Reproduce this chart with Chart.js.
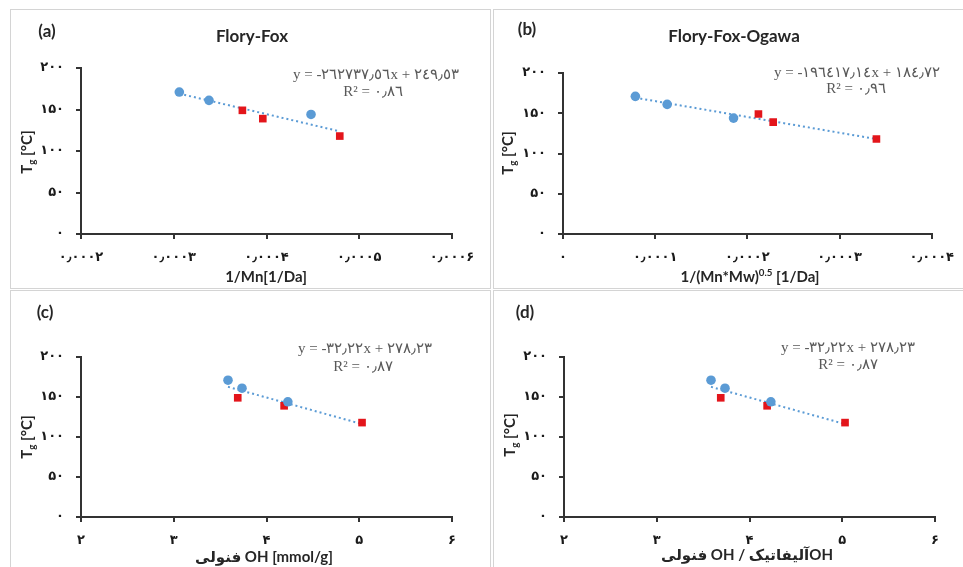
<!DOCTYPE html>
<html>
<head>
<meta charset="utf-8">
<script src="https://cdn.jsdelivr.net/npm/chart.js@4"></script>
<style>
  html, body { margin: 0; padding: 0; background: #fff; }
  #page { position: relative; width: 963px; height: 567px; overflow: hidden; background: #fff; }
  .panel { position: absolute; box-shadow: inset 0 0 0 1px #d4d4d4; }
  .panel canvas { position: absolute; left: 0; top: 0; }
</style>
</head>
<body>
<div id="page">
  <div class="panel" style="left:10px;top:9px;width:481px;height:280px"><canvas id="chart-a" width="481" height="280"></canvas></div>
  <div class="panel" style="left:493px;top:9px;width:472px;height:280px"><canvas id="chart-b" width="472" height="280"></canvas></div>
  <div class="panel" style="left:10px;top:290px;width:481px;height:280px"><canvas id="chart-c" width="481" height="277"></canvas></div>
  <div class="panel" style="left:493px;top:290px;width:472px;height:280px"><canvas id="chart-d" width="472" height="277"></canvas></div>
</div>
<script>
// --- DATOS ---
// Tg medido (°C), mismo para los cuatro paneles
const tgBlue = [171, 161, 144]
const tgRed = [149, 139, 118]

// (a) 1/Mn [1/Da]
const invMnBlue = [0.000306, 0.000338, 0.000448]
const invMnRed = [0.000374, 0.000396, 0.000479]

// (b) 1/(Mn*Mw)^0.5 [1/Da]
const invMnMwBlue = [0.0000785, 0.000113, 0.000185]
const invMnMwRed = [0.000212, 0.000228, 0.00034]

// (c) y (d) OH fenólico [mmol/g]
const ohBlue = [3.585, 3.736, 4.23]
const ohRed = [3.69, 4.19, 5.03]

// coeficientes de las rectas de tendencia (los que muestra la figura)
const fitA = { slope: -262737.56, intercept: 249.53, r2: 0.86 }
const fitB = { slope: -196417.14, intercept: 184.72, r2: 0.96 }
const fitC = { slope: -32.22, intercept: 278.23, r2: 0.87 }

const yTicks = [0, 50, 100, 150, 200]

// --- ESTILO ---
const BLUE = '#5b9bd5'
const RED = '#e3151b'
const AXIS = '#333333'
const SANS = "Lato, 'DejaVu Sans', sans-serif"
const SERIF = "'Liberation Serif', 'DejaVu Serif', serif"

const faDigits = '۰۱۲۳۴۵۶۷۸۹'
const arDigits = '٠١٢٣٤٥٦٧٨٩'
const toFa = s => String(s).replace(/[0-9]/g, d => faDigits[d]).replace('.', '٫')
const toAr = s => String(s).replace(/[0-9]/g, d => arDigits[d]).replace('.', '٫')

function eqLines(fit) {
  const sign = fit.slope < 0 ? '-' : ''
  return [
    `y = ${sign}${toAr(Math.abs(fit.slope).toFixed(2))}x + ${toAr(fit.intercept.toFixed(2))}`,
    `R² = ${toAr(fit.r2.toFixed(2))}`
  ]
}

// texto con sub/superíndices dibujado sobre el canvas
function textPlugin(items) {
  return {
    id: 'richText',
    afterDraw(chart) {
      const ctx = chart.ctx
      items.forEach(item => {
        ctx.save()
        ctx.translate(item.x, item.y)
        if (item.rotate) ctx.rotate(item.rotate)
        ctx.fillStyle = item.color || '#262626'
        ctx.textBaseline = 'middle'
        ctx.textAlign = 'left'
        const parts = item.parts.map(p => typeof p === 'string' ? { t: p, mode: '' } : p)
        const sizes = parts.map(p => p.mode ? item.size * 0.65 : item.size)
        const widths = parts.map((p, i) => {
          ctx.font = `${item.weight || 'bold'} ${sizes[i]}px ${item.family || SANS}`
          return ctx.measureText(p.t).width
        })
        const total = widths.reduce((a, b) => a + b, 0)
        let x = item.align === 'left' ? 0 : -total / 2
        parts.forEach((p, i) => {
          ctx.font = `${item.weight || 'bold'} ${sizes[i]}px ${item.family || SANS}`
          const dy = p.mode === 'sub' ? item.size * 0.3 : p.mode === 'sup' ? -item.size * 0.3 : 0
          ctx.fillText(p.t, x, dy)
          x += widths[i]
        })
        ctx.restore()
      })
    }
  }
}

function makePanel(id, cfg) {
  const xs = cfg.xBlue.concat(cfg.xRed)
  const x0 = Math.min(...xs)
  const x1 = Math.max(...xs)
  const trend = [x0, x1].map(x => ({ x, y: cfg.fit.slope * x + cfg.fit.intercept }))
  const eq = eqLines(cfg.fit)

  const texts = [
    { x: cfg.letter[0], y: cfg.letter[1], parts: [cfg.letterText], size: 17 },
    { x: cfg.eq1[0], y: cfg.eq1[1], parts: [eq[0]], size: 15, weight: 'normal', family: SERIF, color: '#595959' },
    { x: cfg.eq2[0], y: cfg.eq2[1], parts: [eq[1]], size: 15, weight: 'normal', family: SERIF, color: '#595959' },
    { x: cfg.yTitle[0], y: cfg.yTitle[1], parts: ['T', { t: 'g', mode: 'sub' }, ' [°C]'], size: 15, rotate: -Math.PI / 2 },
    { x: cfg.xTitle[0], y: cfg.xTitle[1], parts: cfg.xTitleParts, size: 15 }
  ]
  if (cfg.title) texts.push({ x: cfg.title[0], y: cfg.title[1], parts: [cfg.titleText], size: 17 })

  const tickFont = { family: "'DejaVu Sans', sans-serif", size: 13, weight: 'bold' }
  const gridStyle = { display: true, drawOnChartArea: false, drawTicks: true, tickLength: 5, color: AXIS, lineWidth: 2 }
  const borderStyle = { display: true, color: AXIS, width: 2 }

  return new Chart(document.getElementById(id), {
    type: 'scatter',
    data: {
      datasets: [
        {
          label: 'blue',
          data: cfg.xBlue.map((x, i) => ({ x, y: tgBlue[i] })),
          pointStyle: 'circle', pointRadius: 4.8,
          backgroundColor: BLUE, borderColor: BLUE, borderWidth: 0,
          order: 0
        },
        {
          label: 'red',
          data: cfg.xRed.map((x, i) => ({ x, y: tgRed[i] })),
          pointStyle: 'rect', pointRadius: 5.4,
          backgroundColor: RED, borderColor: RED, borderWidth: 0,
          order: 0
        },
        {
          type: 'line',
          label: 'trend',
          data: trend,
          borderColor: BLUE, borderWidth: 2, borderDash: [2, 3],
          pointRadius: 0, fill: false, tension: 0,
          order: 1
        }
      ]
    },
    options: {
      responsive: false,
      animation: false,
      events: [],
      layout: { padding: { top: cfg.padTop, right: cfg.padRight, left: 0, bottom: 0 } },
      plugins: { legend: { display: false }, tooltip: { enabled: false } },
      scales: {
        x: {
          type: 'linear',
          min: cfg.xMin, max: cfg.xMax,
          ticks: {
            stepSize: cfg.xStep, autoSkip: false, maxRotation: 0,
            padding: 11, color: '#1a1a1a', font: tickFont,
            callback: cfg.xFormat
          },
          grid: gridStyle,
          border: borderStyle,
          afterFit: s => { s.height = cfg.xH }
        },
        y: {
          type: 'linear',
          min: yTicks[0], max: yTicks[yTicks.length - 1],
          afterBuildTicks: s => { s.ticks = yTicks.map(v => ({ value: v })) },
          ticks: { padding: 12, color: '#1a1a1a', font: tickFont, callback: v => toFa(v) },
          grid: gridStyle,
          border: borderStyle,
          afterFit: s => { s.width = cfg.yW }
        }
      }
    },
    plugins: [textPlugin(texts)]
  })
}

const smallFmt = v => Math.abs(v) < 1e-12 ? '۰' : toFa(v.toFixed(4))

makePanel('chart-a', {
  xBlue: invMnBlue, xRed: invMnRed, fit: fitA,
  xMin: 0.0002, xMax: 0.0006, xStep: 0.0001, xFormat: smallFmt,
  padTop: 59, padRight: 39, yW: 71, xH: 55,
  letterText: '(a)', letter: [37, 23],
  titleText: 'Flory-Fox', title: [242, 28],
  eq1: [366, 66], eq2: [363, 83],
  yTitle: [17, 143], xTitle: [256, 268],
  xTitleParts: ['1/Mn[1/Da]']
})

makePanel('chart-b', {
  xBlue: invMnMwBlue, xRed: invMnMwRed, fit: fitB,
  xMin: 0, xMax: 0.0004, xStep: 0.0001, xFormat: smallFmt,
  padTop: 64, padRight: 30, yW: 70, xH: 55,
  letterText: '(b)', letter: [34, 21],
  titleText: 'Flory-Fox-Ogawa', title: [241, 28],
  eq1: [364, 64], eq2: [363, 80],
  yTitle: [15, 144], xTitle: [257, 268],
  xTitleParts: ['1/(Mn*Mw)', { t: '0.5', mode: 'sup' }, ' [1/Da]']
})

makePanel('chart-c', {
  xBlue: ohBlue, xRed: ohRed, fit: fitC,
  xMin: 2, xMax: 6, xStep: 1, xFormat: v => toFa(v),
  padTop: 67, padRight: 39, yW: 71, xH: 50,
  letterText: '(c)', letter: [35, 23],
  eq1: [355, 59], eq2: [353, 77],
  yTitle: [17, 147], xTitle: [254, 267],
  xTitleParts: ['فنولی OH [mmol/g]']
})

makePanel('chart-d', {
  xBlue: ohBlue, xRed: ohRed, fit: fitC,
  xMin: 2, xMax: 6, xStep: 1, xFormat: v => toFa(v),
  padTop: 67, padRight: 30, yW: 71, xH: 50,
  letterText: '(d)', letter: [32, 23],
  eq1: [355, 58], eq2: [355, 75],
  yTitle: [17, 145], xTitle: [254, 265],
  xTitleParts: ['فنولی OH / آلیفاتیکOH']
})
</script>
</body>
</html>
